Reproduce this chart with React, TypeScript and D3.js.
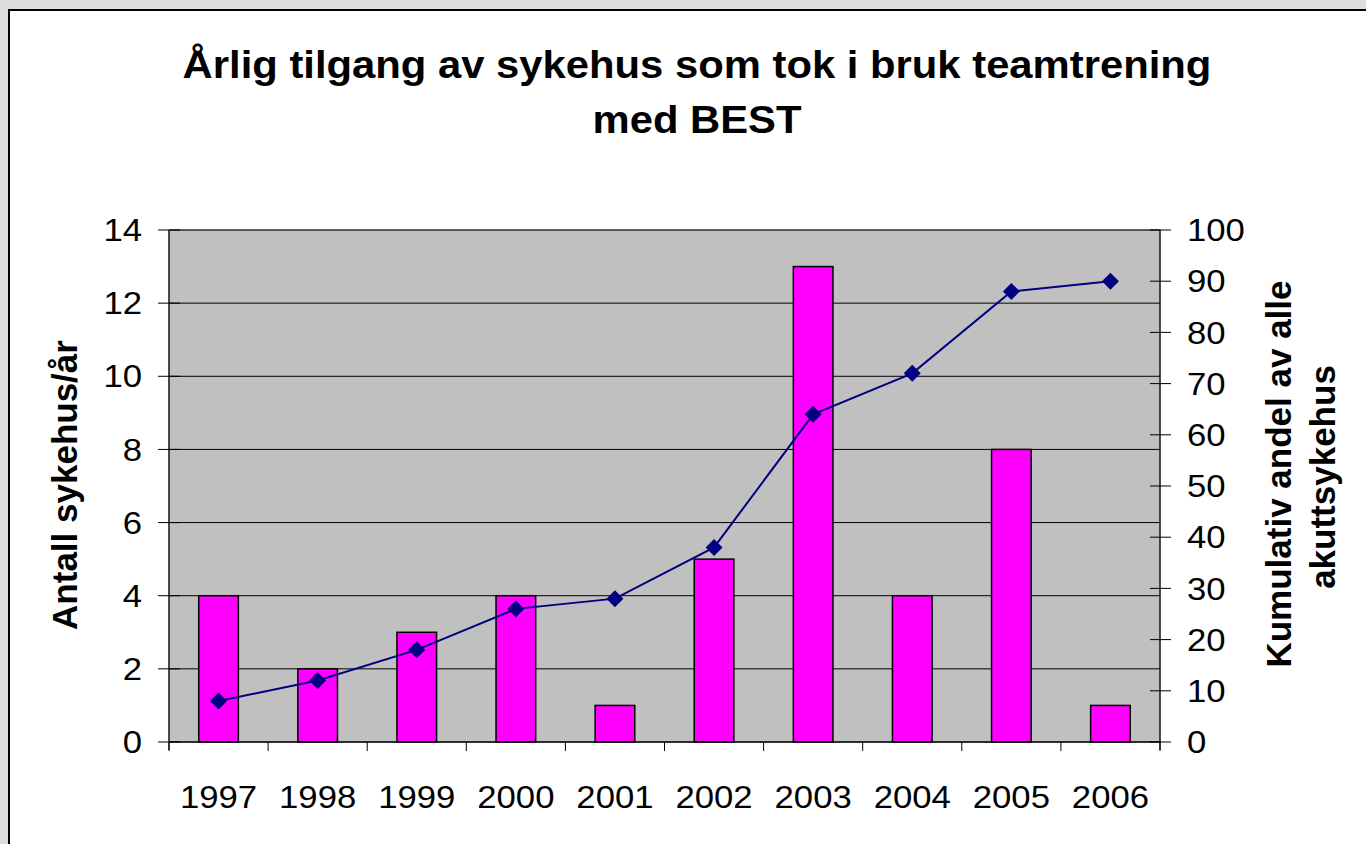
import React from 'react'
import * as d3 from 'd3'

const years = ['1997', '1998', '1999', '2000', '2001', '2002', '2003', '2004', '2005', '2006']
const perYear = [4, 2, 3, 4, 1, 5, 13, 4, 8, 1]
const cumulativeShare = [8, 12, 18, 26, 28, 38, 64, 72, 88, 90]
const leftTicks = [0, 2, 4, 6, 8, 10, 12, 14]
const rightTicks = [0, 10, 20, 30, 40, 50, 60, 70, 80, 90, 100]

const W = 1366
const H = 844
const margin = { top: 230, right: 206, bottom: 102, left: 169 }
const font = 'Liberation Sans, Arial, sans-serif'
const stretch = 1.12

export default function App() {
  const x = d3.scaleBand().domain(years).range([margin.left, W - margin.right])
  const yL = d3.scaleLinear().domain([0, 14]).range([H - margin.bottom, margin.top])
  const yR = d3.scaleLinear().domain([0, 100]).range([H - margin.bottom, margin.top])
  const barW = x.bandwidth() * 0.4
  const cx = (d: string) => (x(d) || 0) + x.bandwidth() / 2

  const line = d3.line<number>()
    .x((_, i) => cx(years[i]))
    .y(d => yR(d))

  const x0 = margin.left
  const x1 = W - margin.right
  const y0 = H - margin.bottom
  const y1 = margin.top

  return (
    <svg width={W} height={H} style={{ position: 'fixed', left: 0, top: 0 }} fontFamily={font}>
      <rect x={0} y={0} width={W} height={H} fill='#dddddd' />
      <rect x={9} y={10} width={W + 20} height={H + 20} fill='#ffffff' stroke='#000' strokeWidth={2} />

      <g transform={`translate(697,78) scale(1.1,1)`}>
        <text textAnchor='middle' fontSize={38} fontWeight='bold'>Årlig tilgang av sykehus som tok i bruk teamtrening</text>
        <text y={55} textAnchor='middle' fontSize={38} fontWeight='bold'>med BEST</text>
      </g>

      {/* plot area */}
      <rect x={x0} y={y1} width={x1 - x0} height={y0 - y1} fill='#c0c0c0' stroke='#808080' strokeWidth={1} />
      {leftTicks.slice(1).map(t => (
        <line key={'g' + t} x1={x0} x2={x1} y1={yL(t)} y2={yL(t)} stroke='#000' strokeWidth={1} />
      ))}

      {/* bars */}
      {years.map((yr, i) => (
        <rect key={yr} x={cx(yr) - barW / 2} y={yL(perYear[i])} width={barW} height={y0 - yL(perYear[i])}
          fill='#ff00ff' stroke='#000' strokeWidth={1.5} />
      ))}

      {/* line */}
      <path d={line(cumulativeShare) || ''} fill='none' stroke='#000080' strokeWidth={2} />
      {cumulativeShare.map((v, i) => (
        <rect key={'m' + i} x={-6} y={-6} width={12} height={12} fill='#000080'
          transform={`translate(${cx(years[i])},${yR(v)}) rotate(45)`} />
      ))}

      {/* left axis */}
      <line x1={x0} x2={x0} y1={y1} y2={y0 + 8} stroke='#000' strokeWidth={1.2} />
      {leftTicks.map(t => (
        <g key={'l' + t}>
          <line x1={x0 - 11} x2={x0 + 11} y1={yL(t)} y2={yL(t)} stroke='#000' strokeWidth={1} />
          <text transform={`translate(${x0 - 27},${yL(t)}) scale(${stretch},1)`} dy='0.36em' textAnchor='end' fontSize={31}>{t}</text>
        </g>
      ))}

      {/* right axis */}
      <line x1={x1} x2={x1} y1={y1} y2={y0 + 8} stroke='#000' strokeWidth={1.2} />
      {rightTicks.map(t => (
        <g key={'r' + t}>
          <line x1={x1 - 10} x2={x1 + 11} y1={yR(t)} y2={yR(t)} stroke='#000' strokeWidth={1} />
          <text transform={`translate(${x1 + 27},${yR(t)}) scale(${stretch},1)`} dy='0.36em' textAnchor='start' fontSize={31}>{t}</text>
        </g>
      ))}

      {/* bottom axis */}
      <line x1={x0} x2={x1} y1={y0} y2={y0} stroke='#000' strokeWidth={1.5} />
      {years.map(yr => (
        <line key={'bt' + yr} x1={x(yr) || 0} x2={x(yr) || 0} y1={y0} y2={y0 + 9} stroke='#000' strokeWidth={1} />
      ))}
      <line x1={x1} x2={x1} y1={y0} y2={y0 + 9} stroke='#000' strokeWidth={1} />
      {years.map(yr => (
        <text key={'bl' + yr} transform={`translate(${cx(yr)},808) scale(${stretch},1)`} textAnchor='middle' fontSize={31}>{yr}</text>
      ))}

      {/* axis titles */}
      <text transform='translate(77,485) rotate(-90)' textAnchor='middle' fontSize={35} fontWeight='bold'>Antall sykehus/år</text>
      <text transform='translate(1291,474) rotate(-90)' textAnchor='middle' fontSize={35} fontWeight='bold'>Kumulativ andel av alle</text>
      <text transform='translate(1335,477) rotate(-90)' textAnchor='middle' fontSize={35} fontWeight='bold'>akuttsykehus</text>
    </svg>
  )
}
